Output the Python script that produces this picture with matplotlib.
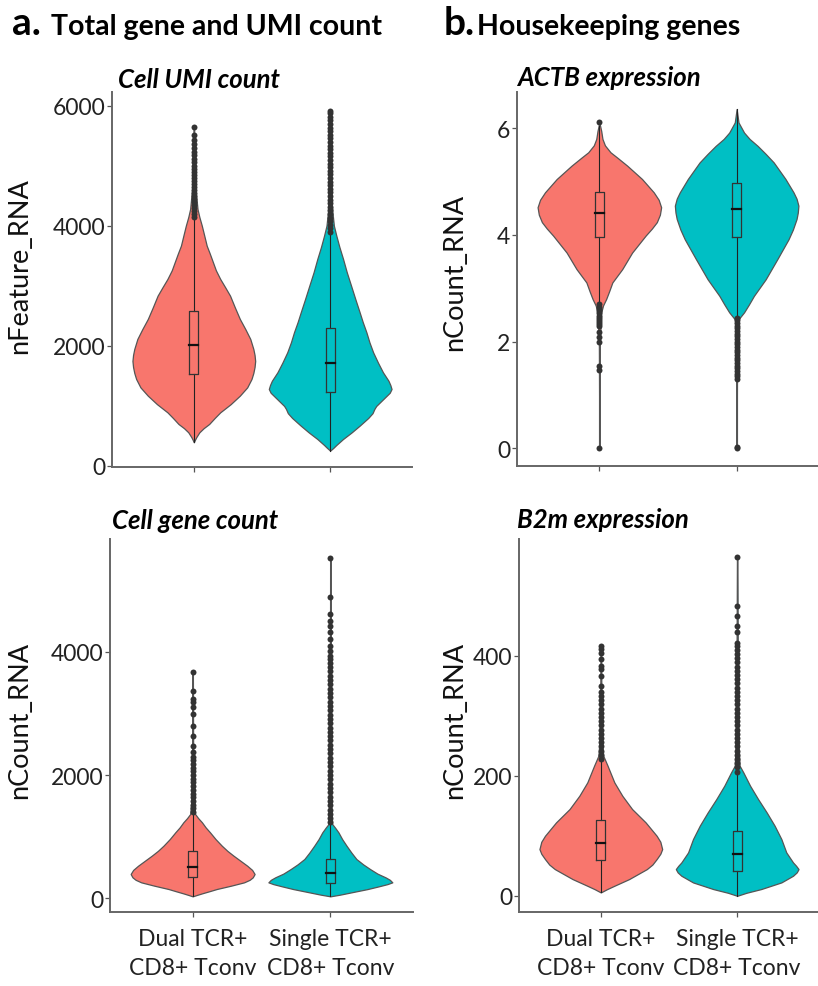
import matplotlib.pyplot as plt

plt.rcParams['font.family'] = ['Lato', 'DejaVu Sans']

groups = ["Dual TCR+\nCD8+ Tconv", "Single TCR+\nCD8+ Tconv"]
colors = ["#F8766D", "#00BFC4"]

# --- a. top: Cell UMI count (nFeature_RNA) ---
umi_dual_y = [395, 440, 480, 561, 630, 700, 800, 894, 1030, 1172, 1310, 1450, 1550, 1650, 1750,
              1850, 1950, 2117, 2280, 2450, 2640, 2839, 2980, 3117, 3260, 3400, 3540, 3672, 3840,
              4006, 4150, 4283, 4600, 5000, 5644]
umi_dual_w = [0, 0.02, 0.04, 0.09, 0.16, 0.25, 0.34, 0.43, 0.60, 0.75, 0.87, 0.94, 0.97, 0.99,
              1.0, 0.99, 0.97, 0.92, 0.84, 0.75, 0.67, 0.59, 0.51, 0.43, 0.36, 0.31, 0.26, 0.21,
              0.17, 0.13, 0.09, 0.06, 0.03, 0.015, 0.005]
umi_single_y = [256, 300, 350, 450, 560, 672, 800, 880, 950, 1000, 1050, 1150, 1220, 1283, 1350,
                1420, 1561, 1720, 1894, 2060, 2228, 2400, 2561, 2780, 3006, 3230, 3450, 3650,
                3839, 4006, 4200, 4400, 5000, 5922]
umi_single_w = [0, 0.05, 0.10, 0.21, 0.35, 0.48, 0.62, 0.69, 0.72, 0.75, 0.80, 0.90, 0.97, 1.0,
                0.98, 0.95, 0.86, 0.78, 0.70, 0.64, 0.59, 0.53, 0.48, 0.41, 0.34, 0.27, 0.21,
                0.15, 0.10, 0.06, 0.04, 0.025, 0.01, 0.005]
umi_dual_box = [395, 1533, 2017, 2589, 4100]
umi_single_box = [256, 1239, 1717, 2294, 3870]
umi_dual_out = [4150, 4200, 4250, 4300, 4350, 4400, 4450, 4500, 4550, 4600, 4650, 4700, 4750,
                4800, 4850, 4900, 4950, 5000, 5060, 5120, 5180, 5240, 5300, 5370, 5440, 5510, 5644]
umi_single_out = [3900, 3960, 4020, 4080, 4140, 4200, 4260, 4320, 4380, 4440, 4500, 4560, 4620,
                  4680, 4740, 4800, 4860, 4920, 4980, 5040, 5100, 5160, 5220, 5280, 5340, 5400,
                  5460, 5520, 5580, 5640, 5700, 5760, 5820, 5880, 5922]

# --- a. bottom: Cell gene count (nCount_RNA) ---
gene_dual_y = [32, 55, 80, 115, 151, 205, 259, 300, 340, 394, 460, 529, 610, 691, 770, 854, 960,
               1070, 1150, 1233, 1300, 1367, 1600, 2400, 3665]
gene_dual_w = [0, 0.07, 0.15, 0.27, 0.39, 0.62, 0.83, 0.92, 0.97, 1.0, 0.96, 0.88, 0.77, 0.66,
               0.56, 0.47, 0.37, 0.28, 0.21, 0.15, 0.09, 0.04, 0.02, 0.008, 0.004]
gene_single_y = [32, 60, 97, 150, 194, 230, 259, 300, 340, 400, 475, 550, 637, 740, 854, 960,
                 1070, 1140, 1205, 1500, 3000, 5514]
gene_single_w = [0, 0.16, 0.34, 0.60, 0.78, 0.92, 1.0, 0.96, 0.89, 0.76, 0.64, 0.53, 0.42, 0.34,
                 0.26, 0.19, 0.13, 0.08, 0.03, 0.015, 0.006, 0.004]
gene_dual_box = [32, 340, 502, 762, 1390]
gene_single_box = [32, 248, 405, 637, 1220]
gene_dual_out = [1400, 1460, 1520, 1580, 1640, 1700, 1760, 1820, 1880, 1940, 2000, 2060, 2120,
                 2180, 2240, 2300, 2368, 2476, 2638, 2800, 2989, 3100, 3178, 3232, 3367, 3665]
gene_single_out = [1230, 1300, 1370, 1440, 1510, 1580, 1650, 1720, 1790, 1860, 1930, 2000, 2070,
                   2140, 2210, 2280, 2350, 2420, 2490, 2560, 2630, 2700, 2770, 2840, 2910, 2980,
                   3050, 3120, 3190, 3260, 3330, 3400, 3470, 3540, 3610, 3680, 3750, 3820, 3881,
                   3935, 4010, 4097, 4205, 4313, 4421, 4502, 4610, 4881, 5514]

# --- b. top: ACTB expression ---
actb_dual_y = [0, 1.0, 2.0, 2.55, 2.68, 2.80, 2.95, 3.11, 3.36, 3.67, 3.99, 4.12, 4.24, 4.38,
               4.52, 4.66, 4.80, 5.05, 5.30, 5.45, 5.55, 5.68, 5.80, 5.95, 6.11]
actb_dual_w = [0.005, 0.005, 0.008, 0.03, 0.06, 0.11, 0.16, 0.21, 0.37, 0.53, 0.75, 0.85, 0.93,
               0.98, 1.0, 0.96, 0.88, 0.69, 0.45, 0.29, 0.18, 0.09, 0.05, 0.03, 0]
actb_single_y = [0, 1.0, 2.0, 2.42, 2.55, 2.70, 2.86, 3.17, 3.55, 3.92, 4.10, 4.30, 4.42, 4.55,
                 4.68, 4.80, 5.05, 5.36, 5.52, 5.67, 5.80, 5.92, 6.11, 6.36]
actb_single_w = [0.005, 0.005, 0.008, 0.03, 0.12, 0.20, 0.28, 0.47, 0.66, 0.84, 0.91, 0.97, 0.99,
                 1.0, 0.97, 0.92, 0.79, 0.60, 0.47, 0.34, 0.21, 0.12, 0.03, 0]
actb_dual_box = [2.72, 3.97, 4.41, 4.80, 6.05]
actb_single_box = [2.47, 3.97, 4.49, 4.97, 6.36]
actb_dual_out = [6.11, 2.70, 2.65, 2.61, 2.57, 2.53, 2.49, 2.45, 2.41, 2.37, 2.33, 2.29, 2.18,
                 2.08, 2.00, 1.55, 1.47, 0.0]
actb_single_out = [2.45, 2.40, 2.35, 2.30, 2.25, 2.20, 2.15, 2.10, 2.05, 2.00, 1.95, 1.90, 1.85,
                   1.80, 1.75, 1.70, 1.65, 1.60, 1.55, 1.50, 1.45, 1.40, 1.35, 1.30, 0.02, 0.0]

# --- b. bottom: B2m expression ---
b2m_dual_y = [5.6, 11, 16.7, 27.8, 44.5, 52, 61.2, 70, 77.8, 90, 100, 122.3, 144.5, 166.7, 189,
              216.7, 233.3, 260, 320, 417]
b2m_dual_w = [0, 0.10, 0.22, 0.46, 0.75, 0.84, 0.91, 0.97, 1.0, 0.97, 0.91, 0.73, 0.51, 0.35,
              0.22, 0.11, 0.04, 0.02, 0.01, 0.004]
b2m_single_y = [0, 5, 11.2, 22.3, 33.4, 39, 44.5, 50, 55.6, 72.3, 94.5, 116.8, 139, 161.2, 183.4,
                205.6, 216.7, 260, 400, 564]
b2m_single_w = [0, 0.15, 0.39, 0.72, 0.91, 0.97, 1.0, 0.96, 0.91, 0.80, 0.72, 0.61, 0.48, 0.34,
                0.21, 0.10, 0.04, 0.02, 0.01, 0.004]
b2m_dual_box = [5.6, 59.5, 87.3, 126.2, 226]
b2m_single_box = [0, 41.7, 69.5, 107.3, 205]
b2m_dual_out = [228, 235, 242, 249, 256, 263, 270, 277, 284, 291, 298, 305, 312, 319, 326, 333,
                339, 350, 367, 378, 383, 394, 405, 411, 417]
b2m_single_out = [207, 214, 221, 228, 235, 242, 249, 256, 263, 270, 277, 284, 291, 298, 305, 312,
                  319, 326, 333, 340, 347, 354, 361, 368, 375, 382, 389, 396, 403, 410, 417, 422,
                  439, 450, 467, 483, 564]


def violin(ax, pos, ys, ws, color, box, out):
    half = [0.45 * w for w in ws]
    ax.fill_betweenx(ys, [pos - h for h in half], [pos + h for h in half],
                     facecolor=color, edgecolor='#555555', linewidth=0.9, zorder=2)
    lo, q1, med, q3, hi = box
    bw = 0.032
    ax.plot([pos, pos], [lo, q1], color='#222222', lw=0.8, zorder=3)
    ax.plot([pos, pos], [q3, hi], color='#222222', lw=0.8, zorder=3)
    ax.plot([pos - bw, pos + bw, pos + bw, pos - bw, pos - bw], [q1, q1, q3, q3, q1],
            color='#333333', lw=0.9, zorder=3)
    ax.plot([pos - bw, pos + bw], [med, med], color='#111111', lw=1.6, zorder=4)
    ax.plot([pos] * len(out), out, 'o', color='#333333', ms=4.3, mew=0, zorder=4)


def style(ax, ylim, yticks, show_x):
    ax.set_xlim(0.4, 2.6)
    ax.set_ylim(*ylim)
    ax.set_yticks(yticks)
    ax.set_xticks([1, 2])
    ax.set_xticklabels(groups if show_x else ['', ''], linespacing=1.45)
    for s in ['top', 'right']:
        ax.spines[s].set_visible(False)
    for s in ['left', 'bottom']:
        ax.spines[s].set_color('#666666')
        ax.spines[s].set_linewidth(1.4)
    ax.tick_params(axis='both', colors='#555555', length=3.5, width=0.9, labelsize=16.5,
                   labelcolor='#222222')
    ax.tick_params(axis='x', labelsize=16.5, pad=8)
    ax.tick_params(axis='y', pad=1.5)


fig = plt.figure(figsize=(8.18, 9.87), dpi=100)
W, H = 818.0, 987.0


def add_axes(l, t, r, b):
    return fig.add_axes([l / W, 1 - b / H, (r - l) / W, (b - t) / H])


panels = [
    (add_axes(112, 93, 412, 468), (-17, 6233), [0, 2000, 4000, 6000], False,
     [(umi_dual_y, umi_dual_w, umi_dual_box, umi_dual_out),
      (umi_single_y, umi_single_w, umi_single_box, umi_single_out)]),
    (add_axes(517, 93, 819, 467), (-0.33, 6.68), [0, 2, 4, 6], False,
     [(actb_dual_y, actb_dual_w, actb_dual_box, actb_dual_out),
      (actb_single_y, actb_single_w, actb_single_box, actb_single_out)]),
    (add_axes(110, 540, 413, 913), (-222, 5828), [0, 2000, 4000], True,
     [(gene_dual_y, gene_dual_w, gene_dual_box, gene_dual_out),
      (gene_single_y, gene_single_w, gene_single_box, gene_single_out)]),
    (add_axes(519, 540, 819, 913), (-27, 594.5), [0, 200, 400], True,
     [(b2m_dual_y, b2m_dual_w, b2m_dual_box, b2m_dual_out),
      (b2m_single_y, b2m_single_w, b2m_single_box, b2m_single_out)]),
]

for ax, ylim, yticks, show_x, series in panels:
    for i, (ys, ws, box, out) in enumerate(series):
        violin(ax, i + 1, ys, ws, colors[i], box, out)
    style(ax, ylim, yticks, show_x)

# headings
fig.text(12 / W, 1 - 35 / H, "a.", fontsize=28, fontweight='bold', va='baseline')
fig.text(51 / W, 1 - 35 / H, "Total gene and UMI count", fontsize=20.5, fontweight='bold',
         va='baseline')
fig.text(444 / W, 1 - 35 / H, "b.", fontsize=28, fontweight='bold', va='baseline')
fig.text(477 / W, 1 - 35 / H, "Housekeeping genes", fontsize=20.5, fontweight='bold',
         va='baseline')

sub = dict(fontsize=18.5, fontweight='bold', fontstyle='italic', va='baseline')
fig.text(118 / W, 1 - 88 / H, "Cell UMI count", **sub)
fig.text(517 / W, 1 - 86 / H, "ACTB expression", **sub)
fig.text(112 / W, 1 - 529 / H, "Cell gene count", **sub)
fig.text(517 / W, 1 - 528 / H, "B2m expression", **sub)

ylab = dict(fontsize=19.5, rotation=90, ha='center', va='center', color='#111111')
fig.text(20 / W, 1 - 266 / H, "nFeature_RNA", **ylab)
fig.text(455 / W, 1 - 272 / H, "nCount_RNA", **ylab)
fig.text(20 / W, 1 - 720 / H, "nCount_RNA", **ylab)
fig.text(455 / W, 1 - 720 / H, "nCount_RNA", **ylab)

fig.savefig("out.png", dpi=100)
